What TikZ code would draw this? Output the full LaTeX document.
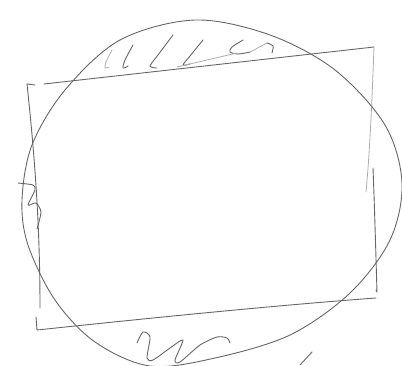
\documentclass[tikz,border=0pt]{standalone}
\begin{document}
\begin{tikzpicture}[x=1pt,y=-1pt,
  pen/.style={draw=black!60,line width=0.9pt,line cap=round,line join=round},
  faint/.style={draw=black!32,line width=0.8pt,line cap=round,line join=round}]
\useasboundingbox (0,0) rectangle (402,365);
% corners of the quadrilateral
\coordinate (tl) at (27,84);
\coordinate (tr) at (374,47);
\coordinate (br) at (376,298);
\coordinate (bl) at (37,330);
% quadrilateral strokes
\draw[pen] (tl) -- (35,85) (44,84) -- (tr);
\draw[pen] (tl) .. controls (34,150) and (40,220) .. (40,308);
\draw[faint] (tr) .. controls (372,100) and (370,150) .. (366,192);
\draw[pen] (373,168) .. controls (375,220) and (376,260) .. (377,292) -- (376,290);
\draw[pen] (36,317) -- (bl) .. controls (150,318) and (280,305) .. (br);
% blob
\draw[pen] plot[smooth cycle,tension=0.55] coordinates {
 (195,20) (270,35) (335,70) (385,125) (402,183) (390,240) (350,293)
 (290,335) (215,358) (150,366) (95,342) (55,300) (28,245) (22,200)
 (32,145) (65,90) (120,40)};
% extra stroke bottom right
\draw[pen] (300,365) -- (312,352);
% top hatching
\draw[faint] plot[smooth,tension=0.5] coordinates {(112,50) (106,62) (105,68) (109,67)};
\draw[pen] plot[smooth,tension=0.5] coordinates {(133,45) (125,60) (123,68) (128,66)};
\draw[pen] plot[smooth,tension=0.5] coordinates {(173,35) (158,55) (150,66) (157,68)};
\draw[pen] plot[smooth,tension=0.5] coordinates {(203,40) (190,56) (183,65) (190,64)};
\draw[pen] plot[smooth,tension=0.5] coordinates {(243,40) (232,47) (230,52) (238,54) (250,52)};
\draw[faint] (250,52) -- (267,43);
\draw[pen] plot[smooth,tension=0.5] coordinates {(267,43) (273,46) (272,53)};
\draw[faint] (177,67) -- (237,53);
% left squiggle
\draw[pen] plot[smooth,tension=0.4] coordinates {(18,183) (33,185) (35,190) (28,205) (36,203) (41,212) (37,229)};
% bottom squiggle
\draw[pen] plot[smooth,tension=0.45] coordinates {(137,343) (143,332) (150,337) (147,358) (153,360)
  (170,348) (183,340) (175,360) (180,362) (200,345)
  (217,337) (227,338) (230,343)};
\end{tikzpicture}
\end{document}
